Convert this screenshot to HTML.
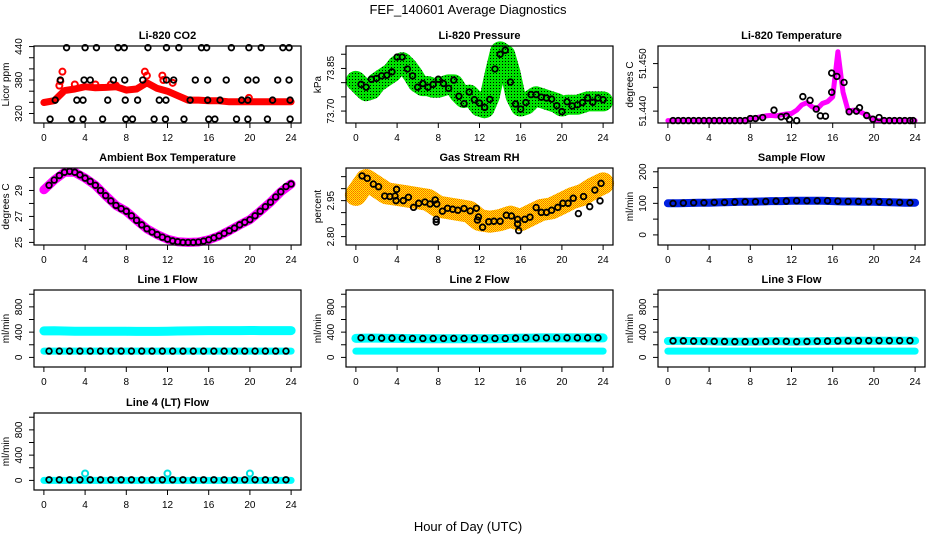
<!DOCTYPE html>
<html><head><meta charset="utf-8"><style>
html,body{margin:0;padding:0;background:#fff;}
svg{display:block;font-family:"Liberation Sans",sans-serif;}
</style></head><body>
<svg id="chart" width="936" height="540" viewBox="0 0 936 540" xmlns="http://www.w3.org/2000/svg">
<defs>
<pattern id="patGreen" width="3" height="3" patternUnits="userSpaceOnUse"><rect width="3" height="3" fill="#00e000"/><rect x="1" y="1" width="1" height="1" fill="#000"/></pattern>
<pattern id="patRH" width="2" height="2" patternUnits="userSpaceOnUse"><rect width="2" height="2" fill="#ffee00"/><rect width="1" height="1" fill="#ff8000"/><rect x="1" y="1" width="1" height="1" fill="#ff6000"/></pattern>
</defs>
<text x="468" y="14" text-anchor="middle" font-size="13">FEF_140601  Average Diagnostics</text>
<text x="468" y="531" text-anchor="middle" font-size="13">Hour of Day (UTC)</text>
</svg>
<script>
// ---------- data ----------
const xTicks = [0,4,8,12,16,20,24];
// CO2
const co2Cloud = [339.8,343,361,364,368,366,366.8,368,362,364,375,365,360,352,344,344,343,342.8,341,341,341,341,341,341,341];
const co2SpikeT = [1.5,1.6,1.8,3,5,6.5,7,9.8,10,11.5,11.6,12.5,19.9];
const co2SpikeV = [370,378,395,372,372,372,370,395,388,388,380,375,348];
const co2BlackT = [2.2,4.0,5.1,7.2,7.8,10.1,11.9,13.1,15.3,15.8,18.2,19.9,21.1,23.2,23.8,
 1.6,3.9,4.5,6.75,7.85,9.6,11.9,12.6,14.7,15.9,17.7,19.8,20.6,22.7,23.8,
 1.1,3.2,3.8,6.2,7.9,9.1,11.2,11.85,14.2,15.9,17.1,19.2,19.8,22.2,23.9,
 0.6,2.7,3.8,5.7,7.95,8.6,10.7,11.8,13.6,16,16.6,18.7,19.8,21.7,23.9];
const co2BlackV = [438,438,438,438,438,438,438,438,438,438,438,438,438,438,438,
 380,380,380,380,380,380,380,380,380,380,380,380,380,380,380,
 344,344,344,344,344,344,344,344,344,344,344,344,344,344,344,
 310,310,310,310,310,310,310,310,310,310,310,310,310,310,310];
// Pressure
const presCloud = [73.806,73.788,73.770,73.776,73.800,73.812,73.824,73.836,73.860,73.872,73.854,73.830,73.800,73.788,73.788,73.782,73.782,73.788,73.794,73.794,73.764,73.746,73.758,73.740,73.716,73.710,73.752,73.836,73.910,73.898,73.836,73.752,73.716,73.722,73.740,73.752,73.746,73.740,73.734,73.728,73.716,73.722,73.722,73.722,73.728,73.734,73.734,73.734,73.734];
const presBlack = [73.794,73.784,73.812,73.815,73.824,73.826,73.838,73.89,73.89,73.848,73.824,73.784,73.797,73.784,73.794,73.812,73.797,73.78,73.809,73.752,73.726,73.767,73.74,73.728,73.713,73.741,73.848,73.90,73.914,73.802,73.725,73.707,73.73,73.758,73.758,73.749,73.746,73.742,73.719,73.698,73.733,73.718,73.722,73.73,73.746,73.731,73.746,73.74];
// Li-820 temperature
const tempCloud = [51.438,51.438,51.438,51.438,51.438,51.438,51.438,51.438,51.438,51.438,51.438,51.438,51.438,51.438,51.438,51.438,
 51.4384,51.4386,51.4388,51.4390,51.4391,51.4390,51.4392,51.4394,51.4395,51.4402,51.4413,51.4418,51.4409,51.4405,51.4416,51.4420,51.4430,51.4525,51.4440,51.4400,51.4402,51.4400,51.4395,51.4388,51.4381,
 51.438,51.438,51.438,51.438,51.438,51.438,51.438,51.438];
const tempBlackT = [0.5,1,1.5,2,2.5,3,3.5,4,4.5,5,5.5,6,6.5,7,7.5,8,8.5,9.2,10.3,11,11.5,11.8,12.5,13.1,13.8,14.4,14.8,15.3,15.9,15.9,16.4,17.1,17.6,18.3,18.6,19.3,19.9,20.5,21,21.5,22,22.5,23,23.5,23.8];
const tempBlackV = [51.43801,51.43801,51.43801,51.43801,51.43801,51.43801,51.43801,51.43801,51.43801,51.43801,51.43801,51.43801,51.43801,51.43801,51.43801,51.43844,51.43844,51.43865,51.44021,51.43879,51.43894,51.43823,51.43801,51.44305,51.44227,51.44043,51.43901,51.43894,51.44397,51.44801,51.4473,51.44603,51.43986,51.44,51.44071,51.43908,51.4383,51.43865,51.43801,51.43801,51.43801,51.43801,51.43801,51.43801,51.43801];
// Ambient box temperature
const ambCloud = [29.05,29.8,30.4,30.4,29.95,29.4,28.6,27.85,27.4,26.7,26.05,25.6,25.25,25.05,25.0,25.03,25.2,25.5,25.9,26.35,26.75,27.4,28.1,28.9,29.5];
const ambBlack = [29.4,29.8,30.15,30.4,30.47,30.4,30.2,29.95,29.7,29.4,29.0,28.6,28.2,27.85,27.6,27.4,27.05,26.7,26.35,26.05,25.8,25.6,25.4,25.25,25.12,25.05,25.0,25.0,25.0,25.03,25.1,25.2,25.35,25.5,25.7,25.9,26.1,26.35,26.55,26.75,27.05,27.4,27.75,28.1,28.5,28.9,29.3,29.5];
// Gas stream RH
const rhCloud = [2.974,3.036,3.008,2.98,2.974,2.967,2.96,2.953,2.925,2.918,2.911,2.904,2.869,2.862,2.869,2.883,2.869,2.89,2.911,2.918,2.939,2.96,2.974,3.001,3.022];
const rhBlackT = [0.6,1.1,1.7,2.2,2.8,3.3,3.8,3.9,3.95,4.6,5.1,5.6,6.1,6.7,7.2,7.7,7.8,7.8,7.85,8.4,8.9,9.4,9.9,10.5,11.1,11.7,11.8,11.9,12.3,12.9,13.4,14,14.6,15.1,15.7,15.7,15.8,16.4,16.9,17.5,18,18.5,19,19.6,20.1,20.6,21.1,21.6,22.1,22.7,23.2,23.7,23.8];
const rhBlackV = [3.053,3.043,3.019,3.008,2.969,2.967,2.969,2.95,2.997,2.95,2.964,2.922,2.939,2.944,2.936,2.953,2.872,2.861,2.936,2.906,2.918,2.914,2.91,2.917,2.907,2.918,2.869,2.882,2.839,2.862,2.864,2.864,2.889,2.886,2.872,2.853,2.825,2.872,2.881,2.921,2.901,2.901,2.91,2.922,2.939,2.939,2.96,2.896,2.967,2.925,2.994,2.949,3.022];
// Flows
const sampleCloud = [100,100,101,102,102,103,104,105,105,106,107,107,108,108,108,108,107,106,106,105,105,104,103,102,102];
const sampleBlack = [100,101,102,102,103,103,104,105,105,106,107,107,108,108,108,108,107,106,106,105,105,104,103,102];
const line1High = [420,422,418,415,415,414,414,413,413,412,412,412,415,418,420,422,424,425,425,425,426,425,425,425,424];
const line1Low = [100,100,100,100,100,100,100,100,100,100,100,100,100,100,100,100,100,100,100,100,100,100,100,100,100];
const line1Black = [100,100,100,100,100,100,100,100,100,100,100,100,100,100,100,100,100,100,100,100,100,100,100,100];
const line2High = [300,305,305,300,300,298,298,296,296,296,295,295,296,296,298,300,305,305,308,308,308,308,308,308,308];
const line2Low = [100,100,100,100,100,100,100,100,100,100,100,100,100,100,100,100,100,100,100,100,100,100,100,100,100];
const line2Black = [310,310,305,305,305,300,300,300,300,300,300,300,300,300,300,305,310,310,310,310,310,310,310,310];
const line3High = [260,262,260,258,255,252,250,250,250,252,255,255,250,252,255,258,260,262,265,265,265,265,265,265,265];
const line3Low = [100,100,100,100,100,100,100,100,100,100,100,100,100,100,100,100,100,100,100,100,100,100,100,100,100];
const line3Black = [262,262,258,256,254,252,250,250,250,252,254,254,250,252,256,258,260,262,264,265,265,265,265,265];
const line4Cloud = [0,0,0,0,0,0,0,0,0,0,0,0,0,0,0,0,0,0,0,0,0,0,0,0,0];
const line4SpikeT = [4,12,20];
const line4SpikeV = [110,110,110];
const line4Black = [10,10,10,10,10,10,10,10,10,10,10,10,10,10,10,10,10,10,10,10,10,10,10,10];

// ---------- drawing ----------
const NS = 'http://www.w3.org/2000/svg';
const svg = document.getElementById('chart');
function mk(tag, attrs, parent) {
  const e = document.createElementNS(NS, tag);
  for (const k in attrs) e.setAttribute(k, attrs[k]);
  (parent || svg).appendChild(e);
  return e;
}
const X0 = -0.96, X1 = 24.96, BW = 267, BH = 77;
const colStart = [0, 312, 624];
const rowTop = [46, 168, 290, 413];

function panel(name, col, row, title, ytitle, ymin, ymax, yticks, ylabels) {
  const L = colStart[col] + 34, T = rowTop[row], R = L + BW, B = T + BH;
  const g = mk('g', {});
  
  
  const sx = t => L + (t - X0) / (X1 - X0) * BW;
  const sy = v => B - (v - ymin) / (ymax - ymin) * BH;
  const plot = mk('g', {}, g);
  
  
  const frame = mk('rect', {x: L, y: T, width: BW, height: BH, fill: 'none', stroke: '#000', 'stroke-width': 1.2}, g);
  
  
  const tt = mk('text', {x: (L + R) / 2, y: T - 7, 'text-anchor': 'middle', 'font-size': 11, 'font-weight': 'bold'}, g);
  
  
  tt.textContent = title;
  const xa = mk('g', {}, g);
  
  
  xTicks.forEach(t => {
    mk('line', {x1: sx(t), x2: sx(t), y1: B, y2: B + 5, stroke: '#000', 'stroke-width': 1}, xa);
    const lab = mk('text', {x: sx(t), y: B + 18, 'text-anchor': 'middle', 'font-size': 10}, xa);
    
    
    lab.textContent = String(t);
  });
  const ya = mk('g', {}, g);
  
  
  yticks.forEach(v => mk('line', {x1: L - 5, x2: L, y1: sy(v), y2: sy(v), stroke: '#000', 'stroke-width': 1}, ya));
  ylabels.forEach(s => {
    const lab = mk('text', {transform: 'translate(' + (L - 12) + ',' + sy(parseFloat(s)) + ') rotate(-90)', 'text-anchor': 'middle', 'font-size': 10}, ya);
    
    
    lab.textContent = s;
  });
  const yt = mk('text', {transform: 'translate(' + (L - 25) + ',' + (T + BH / 2) + ') rotate(-90)', 'text-anchor': 'middle', 'font-size': 10}, ya);
  
  
  yt.textContent = ytitle;
  return {sx, sy, g: plot};
}
function band(p, vals, color, width, name) {
  const n = vals.length;
  const pts = vals.map((v, i) => p.sx(i * 24 / (n - 1)).toFixed(1) + ',' + p.sy(v).toFixed(1)).join(' ');
  const pl = mk('polyline', {points: pts, fill: 'none', stroke: color, 'stroke-width': width, 'stroke-linecap': 'round', 'stroke-linejoin': 'round'}, p.g);
  
  
}
function dots(p, ts, vs, color, r, sw, name) {
  ts.forEach((t, i) => {
    const c = mk('circle', {cx: p.sx(t), cy: p.sy(vs[i]), r: r, fill: 'none', stroke: color, 'stroke-width': sw}, p.g);
    
    
  });
}
function gridT(n, start, step) { const a = []; for (let i = 0; i < n; i++) a.push(start + i * step); return a; }

let p = panel('co2', 0, 0, 'Li-820 CO2', 'Licor ppm', 303, 441, [320,340,360,380,400,420,440], ['320','380','440']);
band(p, co2Cloud, '#ff0000', 7, 'co2-cloud');
dots(p, co2SpikeT, co2SpikeV, '#ff0000', 3, 2, 'co2-outlier');
dots(p, co2BlackT, co2BlackV, '#000', 2.8, 1.8, 'co2-average-point');
p = panel('pressure', 1, 0, 'Li-820 Pressure', 'kPa', 73.658, 73.929, [73.70,73.75,73.80,73.85,73.90], ['73.70','73.85']);
band(p, presCloud, 'url(#patGreen)', 20, 'pressure-cloud');
dots(p, gridT(presBlack.length, 0.5, 0.5), presBlack, '#000', 2.8, 1.8, 'pressure-average-point');
p = panel('li820-temp', 2, 0, 'Li-820 Temperature', 'degrees C', 51.4375, 51.4537, [51.440,51.445,51.450], ['51.440','51.450']);
band(p, tempCloud, '#ff00ff', 5, 'temp-cloud');
dots(p, tempBlackT, tempBlackV, '#000', 2.8, 1.8, 'temp-average-point');
p = panel('ambient', 0, 1, 'Ambient Box Temperature', 'degrees C', 24.8, 30.73, [25,26,27,28,29,30], ['25','27','29']);
band(p, ambCloud, '#ff00ff', 9, 'ambient-cloud');
dots(p, gridT(ambBlack.length, 0.5, 0.5), ambBlack, '#000', 2.8, 1.8, 'ambient-average-point');
p = panel('rh', 1, 1, 'Gas Stream RH', 'percent', 2.765, 3.086, [2.80,2.85,2.90,2.95,3.00,3.05], ['2.80','2.95']);
band(p, rhCloud, 'url(#patRH)', 22, 'rh-cloud');
dots(p, rhBlackT, rhBlackV, '#000', 2.8, 1.8, 'rh-average-point');
p = panel('sample-flow', 2, 1, 'Sample Flow', 'ml/min', -32, 212, [0,50,100,150,200], ['0','100','200']);
band(p, sampleCloud, '#0020e0', 8, 'sample-cloud');
dots(p, gridT(sampleBlack.length, 0.5, 1), sampleBlack, '#000', 2.8, 1.8, 'sample-average-point');
const flowTicks = [0,200,400,600,800,1000], flowLabels = ['0','400','800'];
p = panel('line1-flow', 0, 2, 'Line 1 Flow', 'ml/min', -152, 1067, flowTicks, flowLabels);
band(p, line1High, '#00ffff', 9, 'line1-high-cloud');
band(p, line1Low, '#00ffff', 7, 'line1-low-cloud');
dots(p, gridT(line1Black.length, 0.5, 1), line1Black, '#000', 2.8, 1.8, 'line1-average-point');
p = panel('line2-flow', 1, 2, 'Line 2 Flow', 'ml/min', -152, 1067, flowTicks, flowLabels);
band(p, line2High, '#00ffff', 9, 'line2-high-cloud');
band(p, line2Low, '#00ffff', 7, 'line2-low-cloud');
dots(p, gridT(line2Black.length, 0.5, 1), line2Black, '#000', 2.8, 1.8, 'line2-average-point');
p = panel('line3-flow', 2, 2, 'Line 3 Flow', 'ml/min', -152, 1067, flowTicks, flowLabels);
band(p, line3High, '#00ffff', 8, 'line3-high-cloud');
band(p, line3Low, '#00ffff', 7, 'line3-low-cloud');
dots(p, gridT(line3Black.length, 0.5, 1), line3Black, '#000', 2.8, 1.8, 'line3-average-point');
p = panel('line4-flow', 0, 3, 'Line 4 (LT) Flow', 'ml/min', -152, 1067, flowTicks, flowLabels);
band(p, line4Cloud, '#00ffff', 7, 'line4-cloud');
dots(p, line4SpikeT, line4SpikeV, '#00e0e0', 3, 2, 'line4-spike');
dots(p, gridT(line4Black.length, 0.5, 1), line4Black, '#000', 2.8, 1.8, 'line4-average-point');
</script>
</body></html>
